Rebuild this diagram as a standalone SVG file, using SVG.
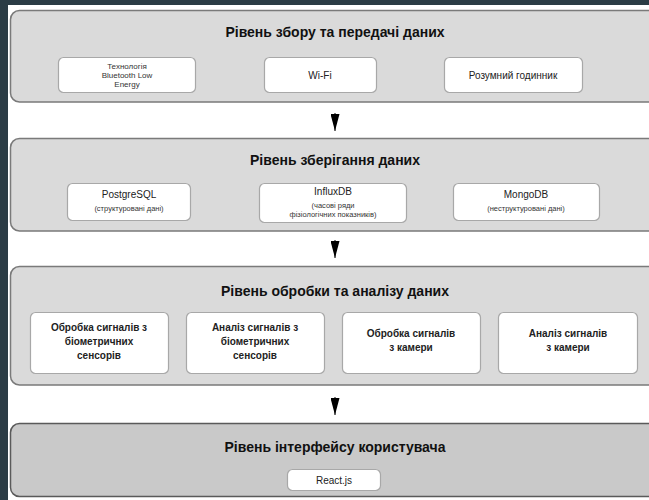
<svg xmlns="http://www.w3.org/2000/svg" width="649" height="500" viewBox="0 0 649 500">
<defs>
<style>
.panel{fill:#dadada;stroke:#7a7a7a;stroke-width:1.5}
.panel4{fill:#c9c9c9;stroke:#5a5a5a;stroke-width:1.5}
.box{fill:#ffffff;stroke:#a8a8a8;stroke-width:1.2}
.title{font-family:"Liberation Sans",Arial,sans-serif;font-weight:bold;font-size:14px;fill:#111;text-anchor:middle}
.t10{font-family:"Liberation Sans",Arial,sans-serif;font-size:10px;fill:#222;text-anchor:middle}
.t8{font-family:"Liberation Sans",Arial,sans-serif;font-size:8px;fill:#333;text-anchor:middle}
.t7{font-family:"Liberation Sans",Arial,sans-serif;font-size:7.5px;fill:#333;text-anchor:middle}
.tb{font-family:"Liberation Sans",Arial,sans-serif;font-weight:bold;font-size:10px;fill:#222;text-anchor:middle}
.conn{stroke:#000;stroke-width:1;fill:none}
</style>
<marker id="ah" markerWidth="17" markerHeight="9" refX="17" refY="4.5" orient="auto" markerUnits="userSpaceOnUse" viewBox="0 0 17 9">
<path d="M0,0 L17,4.5 L0,9 Z" fill="#000"/>
</marker>
</defs>
<rect x="0" y="0" width="649" height="500" fill="#2b3c45"/>
<rect x="8" y="5" width="641" height="495" fill="#ffffff"/>

<g id="layer1">
<rect class="panel" x="10.5" y="10.5" width="660" height="91.5" rx="9"/>
<text class="title" x="335" y="37">Рівень збору та передачі даних</text>
<g id="ble"><rect class="box" x="58.5" y="57.5" width="137" height="35" rx="5"/>
<text class="t8" x="127" y="69">Технологія</text><text class="t8" x="127" y="78">Bluetooth Low</text><text class="t8" x="127" y="87">Energy</text></g>
<g id="wifi"><rect class="box" x="264.5" y="57.5" width="112" height="35" rx="5"/>
<text class="t10" x="320" y="79">Wi-Fi</text></g>
<g id="watch"><rect class="box" x="444.5" y="57.5" width="138" height="35" rx="5"/>
<text class="t10" x="513" y="79">Розумний годинник</text></g>
</g>

<g id="layer2">
<rect class="panel" x="10.5" y="138.5" width="660" height="92.5" rx="9"/>
<text class="title" x="335" y="165">Рівень зберігання даних</text>
<g id="postgres"><rect class="box" x="67.5" y="183.5" width="123" height="37" rx="5"/>
<text class="t10" x="129" y="198">PostgreSQL</text><text class="t7" x="129" y="211">(структуровані дані)</text></g>
<g id="influx"><rect class="box" x="259.5" y="183.5" width="147" height="39" rx="5"/>
<text class="t10" x="333" y="195">InfluxDB</text><text class="t7" x="333" y="208">(часові ряди</text><text class="t7" x="333" y="217">фізіологічних показників)</text></g>
<g id="mongo"><rect class="box" x="453.5" y="183.5" width="146" height="37" rx="5"/>
<text class="t10" x="526" y="198">MongoDB</text><text class="t7" x="526" y="211">(неструктуровані дані)</text></g>
</g>

<g id="layer3">
<rect class="panel" x="10.5" y="266.5" width="660" height="118.5" rx="9"/>
<text class="title" x="335" y="296">Рівень обробки та аналізу даних</text>
<g id="proc-bio"><rect class="box" x="30.5" y="312.5" width="138" height="61" rx="5"/>
<text class="tb" x="99" y="331">Обробка сигналів з</text><text class="tb" x="99" y="345">біометричних</text><text class="tb" x="99" y="359">сенсорів</text></g>
<g id="anal-bio"><rect class="box" x="186.5" y="312.5" width="138" height="61" rx="5"/>
<text class="tb" x="255" y="331">Аналіз сигналів з</text><text class="tb" x="255" y="345">біометричних</text><text class="tb" x="255" y="359">сенсорів</text></g>
<g id="proc-cam"><rect class="box" x="342.5" y="312.5" width="138" height="61" rx="5"/>
<text class="tb" x="411" y="337">Обробка сигналів</text><text class="tb" x="411" y="351">з камери</text></g>
<g id="anal-cam"><rect class="box" x="498.5" y="312.5" width="139" height="61" rx="5"/>
<text class="tb" x="568" y="337">Аналіз сигналів</text><text class="tb" x="568" y="351">з камери</text></g>
</g>

<g id="layer4">
<rect class="panel4" x="10.5" y="423.5" width="660" height="73" rx="9"/>
<text class="title" x="335" y="452">Рівень інтерфейсу користувача</text>
<g id="react"><rect class="box" x="287.5" y="469.5" width="93" height="21" rx="5"/>
<text class="t10" x="334" y="484">React.js</text></g>
</g>

<g id="connectors">
<line class="conn" x1="335" y1="113" x2="335" y2="131" marker-end="url(#ah)"/>
<line class="conn" x1="335" y1="240" x2="335" y2="258" marker-end="url(#ah)"/>
<line class="conn" x1="335" y1="397" x2="335" y2="415" marker-end="url(#ah)"/>
</g>
</svg>
